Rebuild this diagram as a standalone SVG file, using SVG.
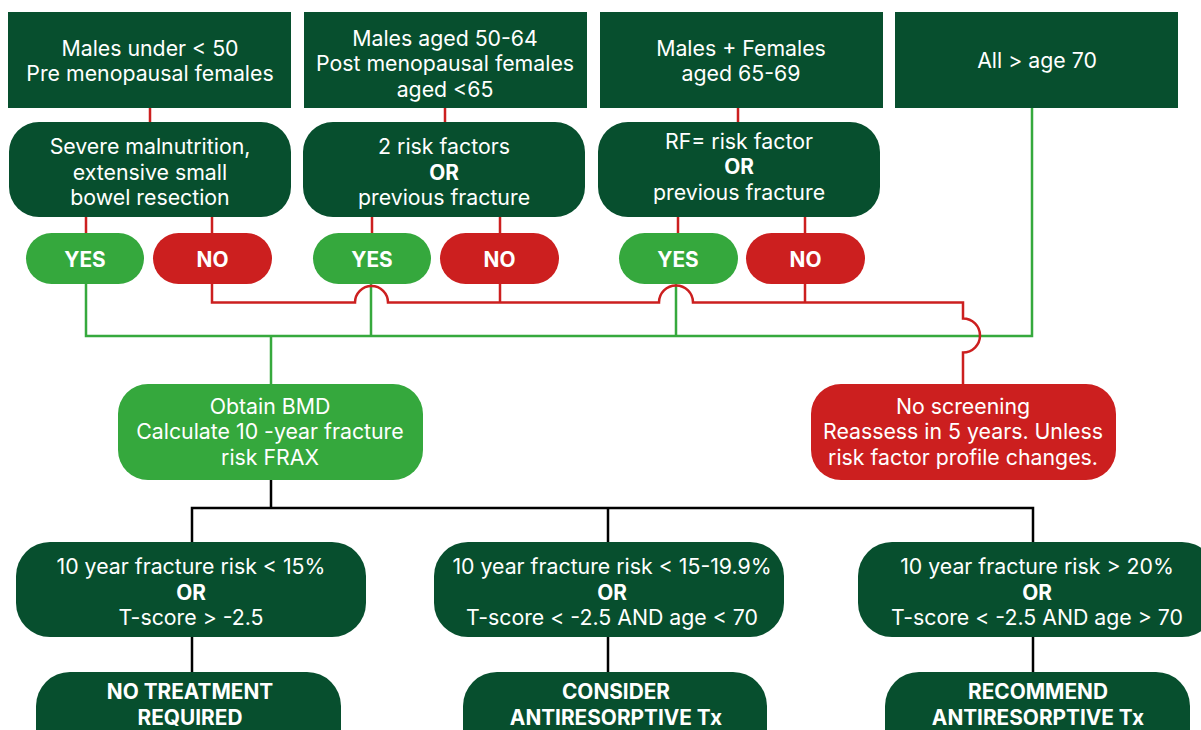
<svg xmlns="http://www.w3.org/2000/svg" width="1201" height="730" viewBox="0 0 1201 730">
<style>
.dk{fill:#074F2E}
.lg{fill:#35A83D}
.rd{fill:#CC1F1F}
text{font-family:Inter,"Noto Sans","Liberation Sans",sans-serif;font-size:21.3px;fill:#fff;text-anchor:middle}
.b{font-weight:700;font-size:20.8px}
.lr{stroke:#CC1F1F;stroke-width:2.5;fill:none}
.lgn{stroke:#36A93D;stroke-width:2.5;fill:none}
.lb{stroke:#000;stroke-width:2.5;fill:none}
</style>
<rect width="1201" height="730" fill="#fff"/>
<g id="connectors">
<path class="lr" d="M150 108V122M445 108V122M738 108V122"/>
<path class="lr" d="M86 216V233M212 216V233M372 216V233M500 216V233M678 216V233M805 216V233"/>
<path class="lgn" d="M1032 108V336H86V284M371 284V336M676 284V336M271 336V384"/>
<path class="lr" d="M212 284V302.5H355A16.5 16.5 0 0 1 388 302.5H659A17 17 0 0 1 693 302.5H963V318.5A17 17 0 0 1 963 352.5V384M500 284V302.5M805 284V302.5"/>
<path class="lb" d="M271 480V508M192 542V508H1033V542M608 508V542M192 637V672M608 637V672M1033 637V672"/>
</g>
<g id="n1"><rect class="dk" x="8" y="12" width="283" height="96"/><text x="150" y="55.5">Males under &lt; 50</text><text x="150" y="81">Pre menopausal females</text></g>
<g id="n2"><rect class="dk" x="304" y="12" width="283" height="96"/><text x="445" y="45.5">Males aged 50-64</text><text x="445" y="71">Post menopausal females</text><text x="445" y="96.5">aged &lt;65</text></g>
<g id="n3"><rect class="dk" x="600" y="12" width="283" height="96"/><text x="741" y="55.5">Males + Females</text><text x="741" y="81">aged 65-69</text></g>
<g id="n4"><rect class="dk" x="895" y="12" width="283" height="96"/><text x="1037" y="67.5">All &gt; age 70</text></g>
<g id="q1"><rect class="dk" x="9" y="122" width="282" height="95" rx="30"/><text x="150" y="154">Severe malnutrition,</text><text x="150" y="179.5">extensive small</text><text x="150" y="205">bowel resection</text></g>
<g id="q2"><rect class="dk" x="303" y="122" width="282" height="95" rx="30"/><text x="444" y="154">2 risk factors</text><text class="b" x="444" y="179.5">OR</text><text x="444" y="205">previous fracture</text></g>
<g id="q3"><rect class="dk" x="598" y="122" width="282" height="95" rx="30"/><text x="739" y="148.5">RF= risk factor</text><text class="b" x="739" y="174">OR</text><text x="739" y="199.5">previous fracture</text></g>
<g id="yes1"><rect class="lg" x="26" y="233" width="118" height="51" rx="25.5"/><text class="b" x="85" y="266.5">YES</text></g>
<g id="no1"><rect class="rd" x="153" y="233" width="119" height="51" rx="25.5"/><text class="b" x="212.5" y="266.5">NO</text></g>
<g id="yes2"><rect class="lg" x="313" y="233" width="118" height="51" rx="25.5"/><text class="b" x="372" y="266.5">YES</text></g>
<g id="no2"><rect class="rd" x="440" y="233" width="119" height="51" rx="25.5"/><text class="b" x="499.5" y="266.5">NO</text></g>
<g id="yes3"><rect class="lg" x="619" y="233" width="119" height="51" rx="25.5"/><text class="b" x="678" y="266.5">YES</text></g>
<g id="no3"><rect class="rd" x="746" y="233" width="119" height="51" rx="25.5"/><text class="b" x="805.5" y="266.5">NO</text></g>
<g id="bmd"><rect class="lg" x="118" y="384" width="305" height="96" rx="30"/><text x="270" y="414">Obtain BMD</text><text x="270" y="439">Calculate 10 -year fracture</text><text x="270" y="464.5">risk FRAX</text></g>
<g id="noscreen"><rect class="rd" x="811" y="384" width="305" height="96" rx="30"/><text x="963" y="414">No screening</text><text x="963" y="439">Reassess in 5 years. Unless</text><text x="963" y="464.5">risk factor profile changes.</text></g>
<g id="c1"><rect class="dk" x="16" y="542" width="350" height="95" rx="34"/><text x="191" y="574">10 year fracture risk &lt; 15%</text><text class="b" x="191" y="599.5">OR</text><text x="191" y="625">T-score &gt; -2.5</text></g>
<g id="c2"><rect class="dk" x="434" y="542" width="350" height="95" rx="34"/><text x="612" y="574">10 year fracture risk &lt; 15-19.9%</text><text class="b" x="612" y="599.5">OR</text><text x="612" y="625">T-score &lt; -2.5 AND age &lt; 70</text></g>
<g id="c3"><rect class="dk" x="858" y="542" width="358" height="95" rx="34"/><text x="1037" y="574">10 year fracture risk &gt; 20%</text><text class="b" x="1037" y="599.5">OR</text><text x="1037" y="625">T-score &lt; -2.5 AND age &gt; 70</text></g>
<g id="d1"><rect class="dk" x="36" y="672" width="305" height="100" rx="34"/><text class="b" x="190" y="699">NO TREATMENT</text><text class="b" x="190" y="724.5">REQUIRED</text></g>
<g id="d2"><rect class="dk" x="463" y="672" width="304" height="100" rx="34"/><text class="b" x="616" y="699">CONSIDER</text><text class="b" x="616" y="724.5">ANTIRESORPTIVE Tx</text></g>
<g id="d3"><rect class="dk" x="885" y="672" width="305" height="100" rx="34"/><text class="b" x="1038" y="699">RECOMMEND</text><text class="b" x="1038" y="724.5">ANTIRESORPTIVE Tx</text></g>
</svg>
